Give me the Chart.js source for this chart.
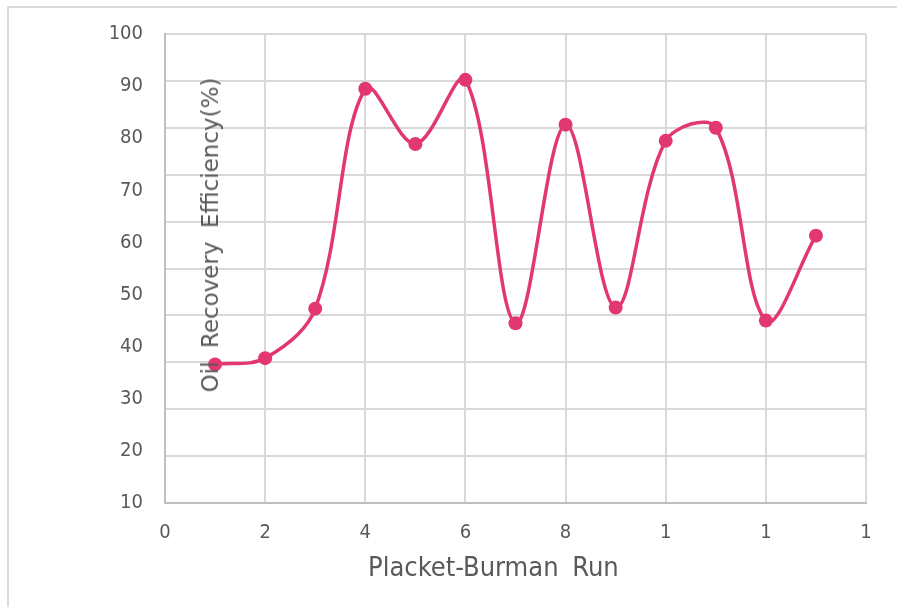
<!DOCTYPE html>
<html>
<head>
<meta charset="utf-8">
<script src="https://cdn.jsdelivr.net/npm/chart.js@4"></script>
<style>
  html, body { margin: 0; padding: 0; background: #fff; overflow: hidden; }
  #wrap { position: relative; width: 897px; height: 607px; overflow: hidden; }
  #frame { position: absolute; left: 7px; top: 6px; width: 900px; height: 610px; border-top: 2px solid #dadada; border-left: 2px solid #dadada; }
  canvas { position: absolute; left: 0; top: 0; }
  .title { position: absolute; color: #595959; white-space: nowrap; }
  #xTitle { left: 368px; top: 551px; font-family: "DejaVu Sans Condensed", "DejaVu Sans", sans-serif; font-stretch: condensed; font-size: 27px; word-spacing: 6px; }
  #yTitle { left: 210px; top: 235px; font-family: "DejaVu Sans", sans-serif; font-size: 23px; word-spacing: 6px; transform: translate(-50%, -50%) rotate(-90deg); }
</style>
</head>
<body>
<div id="wrap">
  <div id="frame"></div>
  <canvas id="runChart" width="897" height="607"></canvas>
  <div class="title" id="xTitle">Placket-Burman Run</div>
  <div class="title" id="yTitle">Oil Recovery Efficiency(%)</div>
</div>
<script>
const runs = [1, 2, 3, 4, 5, 6, 7, 8, 9, 10, 11, 12, 13];
const efficiency = [36.6, 37.8, 47.3, 89.5, 78.9, 91.2, 44.5, 82.6, 47.5, 79.5, 82.0, 45.0, 61.3];
const xTicks = [0, 2, 4, 6, 8, 10, 12, 14];
const yTicks = [10, 20, 30, 40, 50, 60, 70, 80, 90, 100];

const ink = '#595959';
const lineColor = '#e2386f';
const font = { family: '"DejaVu Sans Condensed", "DejaVu Sans", sans-serif', size: 20 };

const ctx = document.getElementById('runChart').getContext('2d');

new Chart(ctx, {
  type: 'line',
  data: {
    datasets: [{
      data: runs.map((r, i) => ({ x: r, y: efficiency[i] })),
      borderColor: lineColor,
      backgroundColor: lineColor,
      borderWidth: 3.5,
      pointRadius: 7,
      pointHoverRadius: 7,
      pointBorderWidth: 0,
      tension: 0.35,
      fill: false,
      yAxisID: 'y'
    }]
  },
  options: {
    responsive: false,
    animation: false,
    events: [],
    layout: { padding: { top: 33, right: 31, left: 0, bottom: 0 } },
    plugins: { legend: { display: false }, tooltip: { enabled: false } },
    scales: {
      x: {
        type: 'linear',
        min: xTicks[0],
        max: xTicks[xTicks.length - 1],
        afterBuildTicks: s => { s.ticks = xTicks.map(v => ({ value: v })); },
        afterFit: s => { s.height = 104; },
        grid: { color: '#d9d9d9', lineWidth: 2, drawTicks: false },
        border: { color: '#bfbfbf', width: 2 },
        // long run numbers only show their first digit
        ticks: { color: ink, font, padding: 18, maxRotation: 0, callback: v => String(v).charAt(0) }
      },
      y: {
        position: 'left',
        min: yTicks[0],
        max: yTicks[yTicks.length - 1],
        afterBuildTicks: s => { s.ticks = yTicks.map(v => ({ value: v })); },
        afterFit: s => { s.width = 165; },
        grid: { display: false, drawTicks: false },
        border: { color: '#bfbfbf', width: 2 },
        ticks: { color: ink, font, padding: 22 }
      },
      yGrid: {
        position: 'left',
        min: 0,
        max: 100,
        afterBuildTicks: s => { s.ticks = [0, 10, 20, 30, 40, 50, 60, 70, 80, 90, 100].map(v => ({ value: v })); },
        afterFit: s => { s.width = 0; },
        grid: { color: '#d9d9d9', lineWidth: 2, drawTicks: false },
        border: { display: false },
        ticks: { display: false }
      }
    }
  }
});
</script>
</body>
</html>
